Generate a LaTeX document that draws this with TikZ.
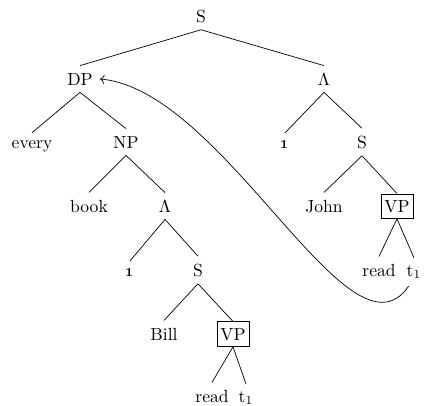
\documentclass[tikz,border=0pt]{standalone}
\usepackage{tikz}
\usepackage{amsmath,amssymb}
\usetikzlibrary{arrows.meta}

\begin{document}
\begin{tikzpicture}[x=0.02cm, y=-0.02cm]
    \tikzset{
        wd/.style={anchor=base, inner sep=4pt},
        vpbox/.style={draw, anchor=base, inner xsep=2pt, inner ysep=3.5pt}
    }
    \useasboundingbox (0, 0) rectangle (424, 406);

    % 第一层
    \node[wd] (s) at (201, 22) {S};
    \node[wd] (dp) at (80, 85) {DP};
    \node[wd] (lam) at (324, 85) {$\Lambda$};
    % 左边的 DP
    \node[wd] (every) at (32, 148) {every};
    \node[wd] (np) at (126, 148) {NP};
    \node[wd] (book) at (89, 212) {book};
    \node[wd] (lamb) at (165, 212) {$\Lambda$};
    \node[wd] (one) at (130, 276) {\oldstylenums{1}};
    \node[wd] (sb) at (198, 276) {S};
    \node[wd] (bill) at (164, 340) {Bill};
    \node[vpbox] (vpb) at (233, 340) {VP};
    \node[wd] (readb) at (212, 402) {read};
    \node[wd] (tb) at (246, 402) {t$_1$};
    % 右边的 Lambda
    \node[wd] (onea) at (285, 148) {\oldstylenums{1}};
    \node[wd] (sa) at (362, 148) {S};
    \node[wd] (john) at (324, 212) {John};
    \node[vpbox] (vpa) at (397, 212) {VP};
    \node[wd] (reada) at (379, 276) {read};
    \node[wd] (ta) at (414, 276) {t$_1$};

    % 树的连线
    \draw (s.south) -- (dp.north);
    \draw (s.south) -- (lam.north);
    \draw (dp.south) -- (every.north);
    \draw (dp.south) -- (np.north);
    \draw (np.south) -- (book.north);
    \draw (np.south) -- (lamb.north);
    \draw (lamb.south) -- (one.north);
    \draw (lamb.south) -- (sb.north);
    \draw (sb.south) -- (bill.north);
    \draw (sb.south) -- (vpb.north);
    \draw (vpb.south) -- (readb.north);
    \draw (vpb.south) -- (tb.north);
    \draw (lam.south) -- (onea.north);
    \draw (lam.south) -- (sa.north);
    \draw (sa.south) -- (john.north);
    \draw (sa.south) -- (vpa.north);
    \draw (vpa.south) -- (reada.north);
    \draw (vpa.south) -- (ta.north);

    % c1, c2 为控制点
    \coordinate (c1) at (350, 372);
    \coordinate (c2) at (225, 90);
    \draw[->] ([xshift=-3pt]ta.south) .. controls (c1) and (c2) .. (dp.east);
\end{tikzpicture}
\end{document}
